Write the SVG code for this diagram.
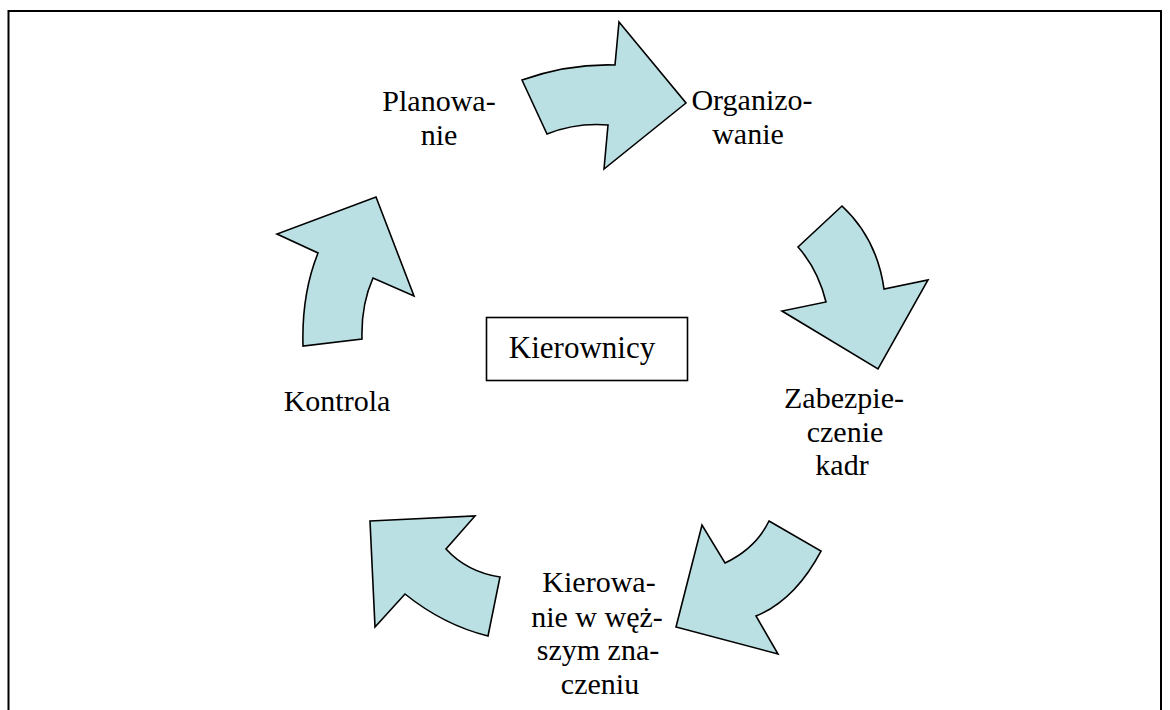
<svg xmlns="http://www.w3.org/2000/svg" width="1170" height="710" viewBox="0 0 1170 710">
  <style>
    .frame { fill: #ffffff; stroke: #000000; stroke-width: 2; }
    .arrow { fill: #BAE0E3; stroke: #000000; stroke-width: 1.6; stroke-linejoin: miter; }
    .box { fill: #ffffff; stroke: #000000; stroke-width: 1.6; }
    text { font-family: 'Liberation Serif', 'Times New Roman', serif; fill: #000000; text-anchor: middle; }
    .label { font-size: 30px; }
    .title { font-size: 31px; }
  </style>

  <!-- page frame -->
  <rect class="frame" x="8.5" y="11" width="1152.5" height="720"/>

  <!-- curved block arrows forming the management cycle -->
  <g id="connectors">
    <path id="arrow-plan-org" class="arrow"
          d="M522,80 Q569,63.5 615,65 L619,22 L686,103 L604,169 L608,125 Q576,122.5 547,134 Z"/>
    <path id="arrow-org-kadr" class="arrow"
          d="M842,206 Q877,238.5 884,289 L928,280 L878,369 L782,311 L826,302 Q818,269.5 798,247 Z"/>
    <path id="arrow-kadr-kier" class="arrow"
          d="M769,521 L821,551 Q795,600 756,616 L778,654 L676,627 L702,525 L725,563 Q756,548 769,521 Z"/>
    <path id="arrow-kier-kontr" class="arrow"
          d="M370,521 L475,516 L446,549 Q467,572 500,577 L488,636 Q443.5,625 405,594 L375,627 Z"/>
    <path id="arrow-kontr-plan" class="arrow"
          d="M376,197 L414,296 L373,278 Q361,305 362,339 L303,346 Q301.5,294 318,253 L277,234 Z"/>
  </g>

  <g id="node-center">
    <rect class="box" x="486.5" y="317.5" width="201" height="63"/>
    <text class="title" x="582" y="358">Kierownicy</text>
  </g>

  <g id="node-planowanie">
    <text class="label" x="439" y="111">Planowa-</text>
    <text class="label" x="439" y="145">nie</text>
  </g>

  <g id="node-organizowanie">
    <text class="label" x="752" y="110">Organizo-</text>
    <text class="label" x="748" y="144">wanie</text>
  </g>

  <g id="node-zabezpieczenie">
    <text class="label" x="844" y="408">Zabezpie-</text>
    <text class="label" x="845" y="442">czenie</text>
    <text class="label" x="842" y="475">kadr</text>
  </g>

  <g id="node-kierowanie">
    <text class="label" x="599" y="592">Kierowa-</text>
    <text class="label" x="597" y="627">nie w węż-</text>
    <text class="label" x="598" y="660">szym zna-</text>
    <text class="label" x="600" y="694">czeniu</text>
  </g>

  <g id="node-kontrola">
    <text class="label" x="337" y="411">Kontrola</text>
  </g>
</svg>
